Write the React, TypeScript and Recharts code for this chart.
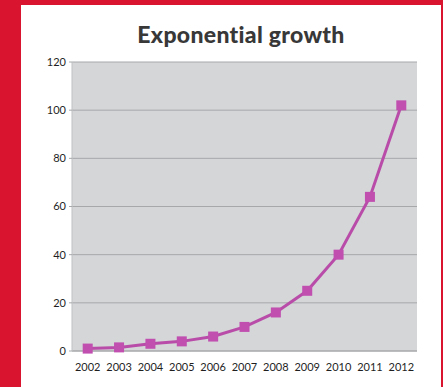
import { CartesianGrid, Line, LineChart, XAxis, YAxis } from "recharts";

const years = ["2002", "2003", "2004", "2005", "2006", "2007", "2008", "2009", "2010", "2011", "2012"];
const values = [1, 1.5, 3, 4, 6, 10, 16, 25, 40, 64, 102];
const yTicks = [0, 20, 40, 60, 80, 100, 120];

const data = years.map((year, i) => ({ year, value: values[i] }));

const lineColor = "#b94ca8";
const tickStyle = { fontSize: 11, fill: "#1f1f1f", fontFamily: "Lato, sans-serif" };

function SquareDot(props: any) {
  const { cx, cy, index } = props;
  if (cx == null || cy == null) return null;
  return <rect key={index} x={cx - 5} y={cy - 5} width={10} height={10} fill="#c04fb0" />;
}

export default function App() {
  return (
    <div
      style={{
        position: "absolute",
        left: 0,
        top: 0,
        width: 443,
        height: 387,
        background: "#d8142f",
        overflow: "hidden",
      }}
    >
      <div
        style={{
          position: "absolute",
          left: 21,
          top: 5,
          width: 420,
          height: 382,
          background: "#ffffff",
        }}
      />
      <div
        style={{
          position: "absolute",
          left: 21,
          top: 20,
          width: 440,
          textAlign: "center",
          fontFamily: "Lato, sans-serif",
          fontWeight: 900,
          fontSize: 23,
          letterSpacing: 0.3,
          color: "#383838",
        }}
      >
        Exponential growth
      </div>
      <div style={{ position: "absolute", left: 0, top: 0 }}>
        <LineChart
          width={443}
          height={387}
          data={data}
          margin={{ top: 62, right: 26, bottom: 6, left: 20 }}
        >
          <CartesianGrid vertical={false} fill="#d4d6d8" stroke="#a6a8aa" strokeWidth={1} />
          <XAxis
            dataKey="year"
            padding={{ left: 15.7, right: 15.7 }}
            tick={tickStyle}
            tickLine={false}
            tickMargin={6}
            axisLine={{ stroke: "#a6a8aa" }}
            height={30}
            interval={0}
          />
          <YAxis
            domain={[0, 120]}
            ticks={yTicks}
            tick={tickStyle}
            tickSize={3}
            tickMargin={3}
            tickLine={{ stroke: "#a6a8aa" }}
            axisLine={{ stroke: "#bfc1c3" }}
            width={52}
          />
          <Line
            type="linear"
            dataKey="value"
            stroke={lineColor}
            strokeWidth={3}
            dot={SquareDot}
            activeDot={false}
            isAnimationActive={false}
          />
        </LineChart>
      </div>
    </div>
  );
}
